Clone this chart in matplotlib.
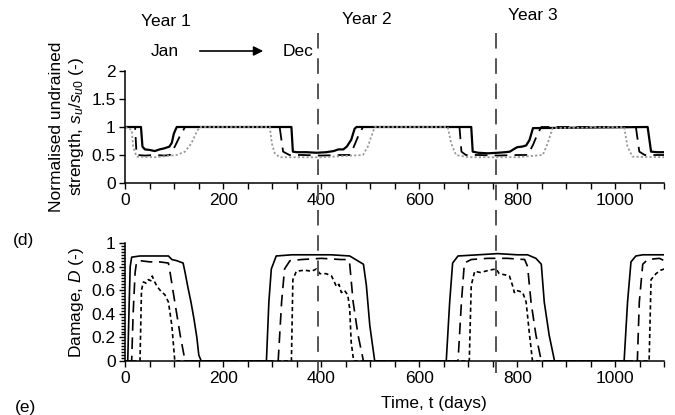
import matplotlib
matplotlib.use("Agg")
import matplotlib.pyplot as plt
from matplotlib.lines import Line2D
from matplotlib.ticker import MultipleLocator
from matplotlib.transforms import blended_transform_factory

plt.rcParams['font.family'] = ['Liberation Sans', 'DejaVu Sans']
plt.rcParams['mathtext.fontset'] = 'custom'
plt.rcParams['mathtext.it'] = 'Liberation Sans:italic'
plt.rcParams['mathtext.rm'] = 'Liberation Sans'

# normalised undrained strength su/su0 (top panel)
su_solid_t = [0, 32, 35, 40, 50, 60, 70, 80, 90, 95, 99, 105, 339, 342, 350, 370, 390, 410, 425, 435,
              445, 452, 461, 468, 472, 706, 709, 720, 740, 760, 775, 785, 792, 800, 810, 818, 825, 832,
              1066, 1073, 1085, 1100]
su_solid = [1, 1, 0.65, 0.6, 0.59, 0.57, 0.6, 0.62, 0.65, 0.72, 0.88, 1, 1, 0.56, 0.55, 0.55, 0.54, 0.55,
            0.57, 0.6, 0.6, 0.65, 0.77, 0.97, 1, 1, 0.56, 0.54, 0.53, 0.54, 0.55, 0.56, 0.6, 0.64, 0.65,
            0.67, 0.77, 0.98, 1, 0.56, 0.55, 0.55]
su_dash_t = [0, 20, 23, 40, 60, 80, 91, 101, 111, 122, 315, 322, 335, 360, 400, 440, 458, 465, 475, 485,
             682, 686, 695, 720, 760, 800, 821, 832, 842, 849, 1042, 1049, 1060, 1100]
su_dash = [1, 1, 0.5, 0.49, 0.5, 0.49, 0.5, 0.65, 0.83, 1, 1, 0.56, 0.5, 0.5, 0.49, 0.5, 0.5, 0.62, 0.83,
           1, 1, 0.56, 0.5, 0.5, 0.49, 0.5, 0.5, 0.68, 0.89, 1, 1, 0.56, 0.5, 0.5]
su_dot_t = [0, 13, 16, 23, 60, 105, 122, 135, 146, 152, 295, 299, 305, 315, 400, 485, 495, 502, 509, 658,
            665, 675, 700, 800, 852, 862, 872, 1018, 1025, 1035, 1100]
su_dot = [1, 0.95, 0.65, 0.47, 0.46, 0.5, 0.56, 0.71, 0.92, 1, 1, 0.71, 0.53, 0.46, 0.46, 0.5, 0.65, 0.83,
          1, 1, 0.71, 0.5, 0.46, 0.46, 0.5, 0.71, 0.98, 1, 0.65, 0.47, 0.46]

# damage D (bottom panel)
d_solid_t = [0, 5, 8, 10, 13, 30, 60, 88, 95, 105, 118, 122, 128, 134, 140, 146, 150, 155, 288, 293, 298,
             308, 340, 380, 420, 458, 470, 478, 486, 492, 499, 509, 655, 662, 668, 679, 720, 760, 800, 821,
             838, 849, 855, 865, 876, 1018, 1025, 1032, 1042, 1056, 1100]
d_solid = [0, 0, 0.5, 0.8, 0.88, 0.89, 0.89, 0.89, 0.86, 0.85, 0.83, 0.75, 0.62, 0.5, 0.36, 0.2, 0.05, 0,
           0, 0.5, 0.78, 0.89, 0.9, 0.9, 0.9, 0.89, 0.86, 0.84, 0.82, 0.64, 0.3, 0, 0, 0.5, 0.83, 0.89,
           0.9, 0.91, 0.9, 0.9, 0.87, 0.82, 0.5, 0.22, 0, 0, 0.5, 0.84, 0.89, 0.9, 0.9]
d_dash_t = [0, 13, 16, 20, 23, 30, 50, 70, 88, 91, 101, 112, 122, 312, 319, 325, 336, 360, 400, 440, 455,
            458, 465, 475, 486, 679, 686, 692, 706, 740, 780, 815, 821, 828, 838, 849, 1045, 1049, 1056,
            1066, 1090, 1100]
d_dash = [0, 0, 0.4, 0.75, 0.84, 0.85, 0.84, 0.84, 0.83, 0.76, 0.5, 0.22, 0, 0, 0.5, 0.78, 0.85, 0.86,
          0.87, 0.86, 0.86, 0.82, 0.5, 0.22, 0, 0, 0.5, 0.83, 0.86, 0.87, 0.87, 0.86, 0.8, 0.5, 0.22, 0,
          0, 0.5, 0.82, 0.86, 0.87, 0.85]
d_dot_t = [0, 30, 33, 37, 42, 47, 52, 55, 60, 65, 71, 76, 81, 88, 95, 101, 339, 342, 349, 366, 380, 390,
           397, 410, 421, 431, 436, 441, 447, 454, 458, 461, 466, 702, 706, 713, 725, 743, 757, 763, 775,
           784, 791, 794, 797, 805, 811, 818, 825, 831, 1069, 1073, 1083, 1093, 1100]
d_dot = [0, 0, 0.6, 0.67, 0.66, 0.69, 0.68, 0.72, 0.67, 0.63, 0.6, 0.58, 0.56, 0.5, 0.3, 0, 0, 0.69,
         0.76, 0.77, 0.76, 0.78, 0.74, 0.74, 0.72, 0.63, 0.65, 0.58, 0.6, 0.56, 0.44, 0.16, 0, 0, 0.64,
         0.76, 0.75, 0.77, 0.78, 0.74, 0.73, 0.72, 0.63, 0.58, 0.6, 0.59, 0.58, 0.5, 0.22, 0, 0, 0.69,
         0.74, 0.77, 0.78]

year_lines = [393, 757]

W, H = 675, 415
fig = plt.figure(figsize=(W / 100, H / 100), dpi=100)

ax1 = fig.add_axes([125.3 / W, 1 - 183 / H, 539 / W, 112 / H])
ax2 = fig.add_axes([125.3 / W, 1 - 361 / H, 539 / W, 118 / H])

ax1.plot(su_solid_t, su_solid, color='black', lw=1.6)
ax1.plot(su_dash_t, su_dash, color='black', lw=1.3, dashes=(7, 4))
ax1.plot(su_dot_t, su_dot, color='#9a9a9a', lw=1.3, dashes=(1.2, 1.2))

ax2.plot(d_solid_t, d_solid, color='black', lw=1.2)
ax2.plot(d_dash_t, d_dash, color='black', lw=1.2, dashes=(7, 4))
ax2.plot(d_dot_t, d_dot, color='black', lw=1.2, dashes=(2.5, 1.8))

for ax in (ax1, ax2):
    ax.set_xlim(0, 1100)
    ax.spines['top'].set_visible(False)
    ax.spines['right'].set_visible(False)
    ax.spines['left'].set_linewidth(1.1)
    ax.spines['bottom'].set_linewidth(1.1)
    ax.xaxis.set_major_locator(MultipleLocator(200))
    ax.xaxis.set_minor_locator(MultipleLocator(50))
    ax.tick_params(which='both', direction='out', width=1, labelsize=12.5, pad=3)
    ax.tick_params(which='major', length=4)
    ax.tick_params(which='minor', length=4)

ax1.set_ylim(0, 2)
ax1.set_yticks([0, 0.5, 1, 1.5, 2])
ax1.set_yticklabels(['0', '0.5', '1', '1.5', '2'])
ax1.set_ylabel('Normalised undrained\nstrength, $s_u/s_{u0}$ (-)', fontsize=12.5, labelpad=4)

ax2.set_ylim(0, 1)
ax2.set_yticks([0, 0.2, 0.4, 0.6, 0.8, 1])
ax2.set_yticklabels(['0', '0.2', '0.4', '0.6', '0.8', '1'])
ax2.yaxis.set_minor_locator(MultipleLocator(0.025))
ax2.tick_params(axis='y', which='minor', length=3)
ax2.set_ylabel('Damage, $D$ (-)', fontsize=12.5, labelpad=4)

# year boundary lines running across both panels
tr = blended_transform_factory(ax1.transData, fig.transFigure)
for xl in year_lines:
    fig.add_artist(Line2D([xl, xl], [1 - 33 / H, 1 - 373 / H], transform=tr,
                          color='#555555', lw=1.4, dashes=(8, 5)))

fig.text(166 / W, 1 - 21 / H, 'Year 1', fontsize=12.5, ha='center', va='center')
fig.text(367 / W, 1 - 20 / H, 'Year 2', fontsize=12.5, ha='center', va='center')
fig.text(533 / W, 1 - 16 / H, 'Year 3', fontsize=12.5, ha='center', va='center')
fig.text(165 / W, 1 - 52 / H, 'Jan', fontsize=12.5, ha='center', va='center')
fig.text(298 / W, 1 - 52 / H, 'Dec', fontsize=12.5, ha='center', va='center')
fig.add_artist(matplotlib.patches.FancyArrowPatch((197 / W, 1 - 51 / H), (266 / W, 1 - 51 / H),
                                                  transform=fig.transFigure, arrowstyle='-|>',
                                                  mutation_scale=14, color='black', lw=1.2))
fig.text(23 / W, 1 - 240 / H, '(d)', fontsize=12.5, ha='center', va='center')
fig.text(25 / W, 1 - 407 / H, '(e)', fontsize=12.5, ha='center', va='center')
fig.text(434 / W, 1 - 403 / H, 'Time, t (days)', fontsize=12.5, ha='center', va='center')

fig.savefig('out.png', dpi=100)
